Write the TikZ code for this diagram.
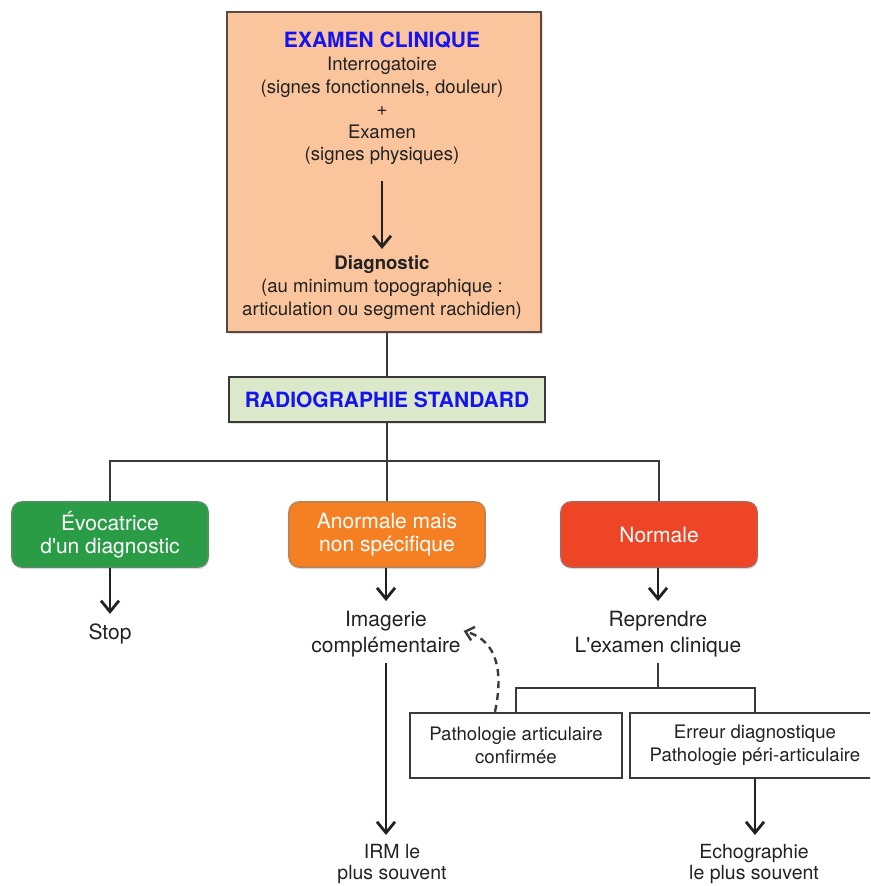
\documentclass[tikz,border=0pt]{standalone}
\usepackage{fontspec}
\setmainfont{TeX Gyre Heros}[Ligatures=TeXOff]
\usetikzlibrary{arrows.meta,shadows,positioning}
\definecolor{peach}{HTML}{FAC49C}
\definecolor{peachline}{HTML}{5A4A42}
\definecolor{radiofill}{HTML}{DCE8CA}
\definecolor{titleblue}{HTML}{1414F0}
\definecolor{cgreen}{HTML}{2A9C46}
\definecolor{corange}{HTML}{F58024}
\definecolor{cred}{HTML}{EE4526}
\definecolor{linegray}{HTML}{3A3A3A}
\definecolor{txtgray}{HTML}{222222}
\tikzset{
  conn/.style={draw=linegray, line width=2.4pt},
  arr/.style={draw=txtgray, line width=2.8pt, -{Straight Barb[length=11pt,width=18pt]}},
  dasharr/.style={draw=linegray, line width=2.4pt, dash pattern=on 7pt off 5pt, -{Straight Barb[length=8pt,width=14pt]}},
  txt/.style={inner sep=0pt, outer sep=0pt, align=center, text=txtgray, font=\fontsize{18.6}{22.6}\selectfont},
  bigtxt/.style={inner sep=0pt, outer sep=0pt, align=center, text=txtgray, font=\fontsize{21}{26}\selectfont},
  smalltxt/.style={inner sep=0pt, outer sep=0pt, align=center, text=txtgray, font=\fontsize{19.5}{21.5}\selectfont},
  titletxt/.style={inner sep=0pt, outer sep=0pt, text=titleblue, font=\fontsize{21}{24}\selectfont\bfseries},
  exambox/.style={draw=peachline, fill=peach, line width=2.6pt, minimum width=314pt, minimum height=320pt, inner sep=0pt,
     drop shadow={opacity=0.25, shadow xshift=1.5pt, shadow yshift=-1.5pt}},
  radiobox/.style={draw=linegray, fill=radiofill, line width=2.4pt, minimum width=316pt, minimum height=45pt, inner sep=0pt,
     drop shadow={opacity=0.2, shadow xshift=1pt, shadow yshift=-1.5pt}},
  colbox/.style={draw=#1!60!gray, fill=#1, line width=1.6pt, rounded corners=10pt, minimum width=196pt, minimum height=65pt,
     inner sep=0pt, align=center, text=white, font=\fontsize{21}{23.5}\selectfont,
     drop shadow={opacity=0.3, shadow xshift=1pt, shadow yshift=-2pt}},
  whitebox/.style={draw=linegray, fill=white, line width=2.4pt, minimum height=65pt, inner sep=0pt, align=center,
     text=txtgray, font=\fontsize{18.6}{22.6}\selectfont},
}
\begin{document}
\begin{tikzpicture}[x=1pt,y=-1pt]
\useasboundingbox (0,0) rectangle (870,886);
\clip (0,0) rectangle (870,886);
% top box
\node[exambox] (exam) at (384,172) {};
\node[titletxt] (t0) at (382,40) {EXAMEN CLINIQUE};
\node[txt] (t1) at (382,111) {Interrogatoire\\(signes fonctionnels, douleur)\\+\\Examen\\(signes physiques)};
\node[txt] (t2) at (382,287.5) {\textbf{Diagnostic}\\(au minimum topographique :\\articulation ou segment rachidien)};
\draw[arr, shorten <=16pt, shorten >=7pt] (t1.south) -- (t2.north);
% radiographie
\node[radiobox] (radio) at (387,399.5) {};
\node[titletxt] (rt) at (387,400) {RADIOGRAPHIE STANDARD};
\draw[conn] (exam.south -| radio.north) -- (radio.north);
% three boxes
\node[colbox=cgreen] (green) at (110,534.5) {Évocatrice\\d'un diagnostic};
\node[colbox=corange] (orange) at (387,534.5) {Anormale mais\\non spécifique};
\node[colbox=cred] (red) at (659,534.5) {Normale};
\coordinate (j) at (387,461);
\draw[conn] (radio.south) -- (j);
\draw[conn] (green.north) |- (j) -| (red.north);
\draw[conn] (j) -- (orange.north);
% second level
\node[bigtxt] (stop) at (110,634) {Stop};
\node[bigtxt] (imag) at (386,634) {Imagerie\\complémentaire};
\node[bigtxt] (repr) at (658,634) {Reprendre\\L'examen clinique};
\draw[arr, shorten >=10pt] (green.south) -- (stop.north);
\draw[arr, shorten >=10pt] (orange.south -| imag.north) -- (imag.north);
\draw[arr, shorten >=10pt] (red.south -| repr.north) -- (repr.north);
% third level
\node[whitebox, minimum width=212pt] (patho) at (516,745.5) {Pathologie articulaire\\confirmée};
\node[whitebox, minimum width=250pt] (err) at (755,745.5) {Erreur diagnostique\\Pathologie péri-articulaire};
\coordinate (k) at (658,688);
\draw[conn, shorten <=6pt] (repr.south) -- (k);
\draw[conn] (patho.north) |- (k) -| (err.north);
\draw[dasharr] ([xshift=-21pt]patho.north) .. controls +(8,-38) and +(35,10) .. ([xshift=3pt,yshift=3pt]imag.east);
% bottom
\node[smalltxt] (irm) at (392,864) {IRM le\\plus souvent};
\node[smalltxt] (echo) at (754,864) {Echographie\\le plus souvent};
\draw[arr, shorten <=6pt, shorten >=9pt] (imag.south) -- (imag.south |- irm.north);
\draw[arr, shorten >=9pt] (err.south) -- (err.south |- echo.north);
\end{tikzpicture}
\end{document}
